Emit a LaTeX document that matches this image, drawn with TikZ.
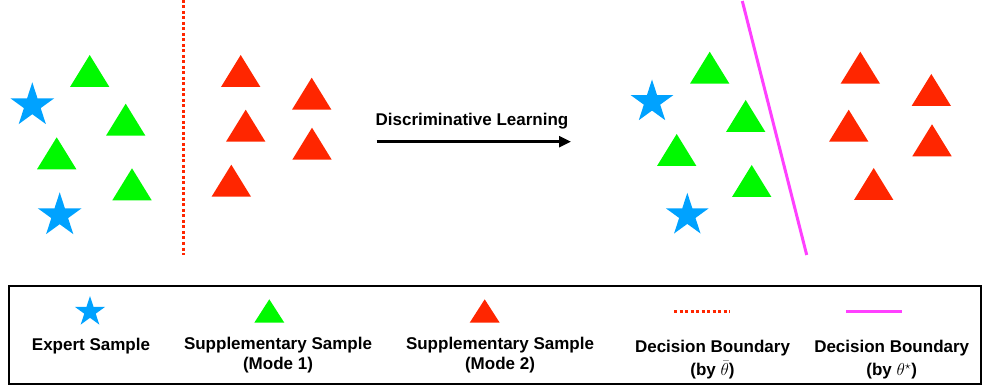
\documentclass[tikz,border=0pt]{standalone}
\usepackage{fontspec}
\setmainfont{Liberation Sans}
\usetikzlibrary{arrows.meta}
\definecolor{starblue}{RGB}{0,162,255}
\definecolor{modegreen}{RGB}{0,249,0}
\definecolor{modered}{RGB}{255,38,0}
\definecolor{bndmag}{RGB}{255,64,255}
\newcommand\tri[3]{\fill[#3] (#1,#2) -- ++(-19.7,32) -- ++(39.4,0) -- cycle;}
\newcommand\smalltri[3]{\fill[#3] (#1,#2) -- ++(-15,23.4) -- ++(30,0) -- cycle;}
\newcommand\starfig[3]{\fill[starblue] (#1,#2) +(-90:#3) -- +(-54:{0.382*#3}) -- +(-18:#3) -- +(18:{0.382*#3}) -- +(54:#3) -- +(90:{0.382*#3}) -- +(126:#3) -- +(162:{0.382*#3}) -- +(198:#3) -- +(234:{0.382*#3}) -- cycle;}
\begin{document}
\begin{tikzpicture}[x=1pt,y=-1pt,
  lbl/.style={font=\fontsize{17}{19.5}\selectfont\bfseries, align=center, inner sep=0pt, anchor=base},
  dlbl/.style={lbl, font=\fontsize{17}{23}\selectfont\bfseries},
  dotbnd/.style={modered, line width=3pt, dash pattern=on 3pt off 2.5pt},
  solbnd/.style={bndmag, line width=3pt}]
\useasboundingbox (0,0) rectangle (992,387);
% ---- left panel ----
\starfig{32.3}{105.4}{23.1}
\starfig{59.7}{215.4}{23.1}
\tri{89.7}{55}{modegreen}
\tri{125.7}{103.7}{modegreen}
\tri{56.7}{137.3}{modegreen}
\tri{132}{168.3}{modegreen}
\tri{240.7}{55}{modered}
\tri{311.7}{77.7}{modered}
\tri{245.7}{109.7}{modered}
\tri{312}{127.7}{modered}
\tri{231.3}{164.7}{modered}
\coordinate (lbtop) at (183,0);
\coordinate (lbbot) at (183,255);
\draw[dotbnd] (lbtop) -- (lbbot);
% ---- arrow ----
\node[lbl] (arrlbl) at (472,126) {Discriminative Learning};
\coordinate (arrs) at (376.7,141.7);
\coordinate (arre) at (571,141.7);
\draw[line width=2.6pt, -{Triangle[length=12pt,width=11pt]}] (arrs) -- (arre);
% ---- right panel ----
\starfig{652}{102}{22.5}
\starfig{687.3}{215.3}{22.5}
\tri{709.7}{51.7}{modegreen}
\tri{745.7}{100}{modegreen}
\tri{676.7}{134}{modegreen}
\tri{751.7}{165}{modegreen}
\tri{860.3}{51.7}{modered}
\tri{931.3}{74}{modered}
\tri{848.7}{109.7}{modered}
\tri{932}{124.3}{modered}
\tri{873.7}{168}{modered}
\coordinate (rbtop) at (742.3,1);
\coordinate (rbbot) at (806.7,255);
\draw[solbnd] (rbtop) -- (rbbot);
% ---- legend ----
\draw[line width=2pt] (9,286) rectangle (980.5,384.3);
\starfig{90}{311.8}{15.8}
\node[lbl] (lexp) at (91,350) {Expert Sample};
\smalltri{269.3}{299.3}{modegreen}
\node[lbl] (lm1) at (278,369.3) {Supplementary Sample\\(Mode 1)};
\smalltri{484.7}{299.3}{modered}
\node[lbl] (lm2) at (500,369.3) {Supplementary Sample\\(Mode 2)};
\coordinate (ld1) at (674,311);
\coordinate (ld2) at (729.5,311);
\draw[dotbnd] (ld1) -- (ld2);
\node[dlbl] (ldb1) at (712.5,375.5) {Decision Boundary\\(by $\bar{\theta}$)};
\coordinate (ls1) at (846,311);
\coordinate (ls2) at (901.7,311);
\draw[solbnd] (ls1) -- (ls2);
\node[dlbl] (ldb2) at (891.7,375.5) {Decision Boundary\\(by $\theta^{\star}$)};
\end{tikzpicture}
\end{document}
